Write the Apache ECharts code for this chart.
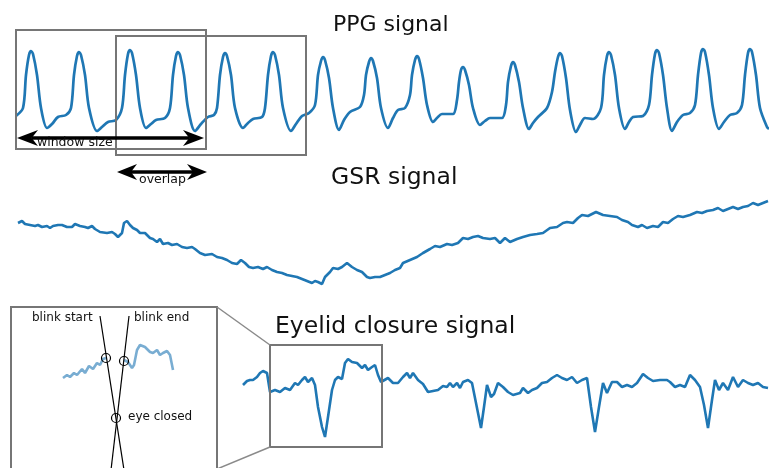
<!DOCTYPE html>
<html>
<head>
<meta charset="utf-8">
<script src="https://cdn.jsdelivr.net/npm/echarts@6/dist/echarts.min.js"></script>
<style>html,body{margin:0;padding:0;background:#fff;}#c{width:769px;height:468px;}</style>
</head>
<body>
<div id="c"></div>
<script>
// ---- data (time in samples, amplitude in arbitrary units) ----
var titles = ['PPG signal', 'GSR signal', 'Eyelid closure signal'];
var annotationLabels = ['window size', 'overlap', 'blink start', 'blink end', 'eye closed'];

var ppgSignal = [
  [16,24],[23,32],[26,65],[29,85],[31,89],[33,86],[37,65],[41,32],[47,12],[52,16],[58,23],[66,25],
  [71,32],[74,65],[77,84],[79,88],[81,85],[85,65],[89,32],[97,9],[102,13],[108,18],[116,20],
  [122,32],[125,65],[128,86],[130,90],[132,87],[136,65],[140,32],[146,12],[151,16],[156,20],[165,22],
  [170,32],[173,65],[176,84],[178,88],[180,85],[184,65],[188,32],[195,9],[201,16],[208,23],[214,25],
  [217,32],[220,65],[223,83],[225,87],[227,84],[231,65],[235,32],[243,12],[248,17],[253,21],[262,23],
  [265,32],[268,65],[271,84],[273,88],[275,85],[279,65],[283,32],[291,9],[296,16],[302,24],[309,27],
  [315,35],[318,65],[321,79],[323,83],[325,80],[329,62],[333,32],[339,10],[344,20],[350,28],[360,33],
  [364,45],[366,65],[369,78],[371,82],[373,79],[377,62],[381,32],[388,12],[393,22],[398,30],[405,32],
  [410,45],[412,65],[415,80],[417,84],[419,81],[423,62],[427,35],[433,18],[437,22],[442,26],[453,26],
  [457,40],[459,58],[461,70],[463,73],[465,70],[469,55],[473,32],[480,15],[485,19],[490,22],[502,22],
  [506,35],[508,58],[511,74],[513,78],[515,75],[519,58],[523,32],[529,11],[533,17],[538,23],[547,32],
  [552,48],[555,68],[558,83],[560,87],[562,84],[566,62],[570,30],[576,8],[580,15],[585,22],[593,21],
  [601,32],[604,65],[607,84],[609,88],[611,85],[615,65],[619,32],[625,11],[629,18],[633,23],[643,24],
  [649,35],[652,65],[655,86],[657,90],[659,87],[663,65],[667,32],[672,9],[677,18],[683,25],[690,27],
  [695,35],[698,65],[701,87],[703,91],[705,88],[709,65],[713,32],[719,11],[724,18],[730,25],[737,27],
  [742,35],[745,65],[748,87],[750,91],[752,88],[756,65],[760,32],[767,13],[769,11]
];

var gsrSignal = [
  [18,67],[22,69],[25,66],[30,65],[35,64],[38,65],[42,63],[47,64],[50,62],[53,64],[58,65],[62,65],
  [67,63],[72,63],[75,66],[80,64],[85,63],[88,62],[92,64],[95,61],[100,58],[107,57],[112,58],[115,56],
  [118,53],[122,57],[124,67],[127,69],[130,65],[133,62],[137,60],[140,57],[145,57],[150,52],[153,51],
  [157,48],[160,51],[163,46],[168,47],[172,45],[177,46],[182,43],[187,42],[192,43],[195,41],[200,37],
  [205,35],[212,36],[217,33],[222,32],[227,30],[232,27],[237,26],[241,30],[245,27],[249,23],[253,22],
  [258,23],[263,21],[267,23],[272,20],[277,18],[282,17],[287,15],[292,14],[297,13],[302,11],[307,9],
  [312,7],[315,9],[318,8],[322,6],[325,13],[330,18],[333,22],[338,21],[342,23],[347,27],[352,23],
  [357,20],[362,18],[367,13],[370,12],[375,13],[380,13],[385,15],[390,17],[395,20],[400,22],[403,27],
  [410,30],[417,33],[423,37],[430,41],[435,44],[440,43],[447,46],[452,45],[458,47],[463,52],[468,51],
  [473,53],[478,54],[483,52],[490,51],[495,52],[500,47],[505,52],[510,48],[517,51],[523,53],[530,55],
  [537,56],[543,57],[550,62],[557,63],[563,67],[567,68],[573,67],[578,72],[582,75],[588,74],[596,78],
  [603,75],[610,74],[617,73],[622,70],[628,68],[632,65],[638,63],[642,65],[647,62],[653,64],[658,63],
  [663,68],[668,67],[673,71],[678,74],[683,73],[690,75],[697,78],[702,77],[707,79],[713,80],[718,82],
  [723,79],[728,81],[733,83],[738,81],[743,83],[748,84],[753,87],[758,85],[763,87],[768,89]
];

var eyelidSignal = [
  [243,65],[247,69],[250,70],[253,70],[257,73],[260,77],[263,79],[267,77],[270,58],[272,58],[275,60],
  [280,58],[285,62],[290,60],[295,67],[298,65],[302,70],[305,73],[308,68],[312,72],[315,65],[318,43],
  [322,23],[325,13],[328,33],[332,60],[335,70],[338,73],[342,71],[345,87],[348,91],[352,88],[357,87],
  [362,82],[365,85],[368,80],[372,83],[375,85],[378,75],[381,68],[383,67],[388,72],[393,67],[398,67],
  [403,73],[407,77],[410,72],[413,77],[418,70],[423,66],[428,58],[433,59],[438,60],[443,64],[447,63],
  [450,67],[453,63],[457,67],[460,62],[463,68],[468,70],[472,67],[477,42],[481,22],[484,43],[487,65],
  [491,53],[494,56],[498,67],[503,63],[508,58],[513,55],[520,57],[523,62],[528,57],[532,60],[537,62],
  [542,67],[547,68],[552,72],[557,75],[562,72],[567,70],[572,73],[577,67],[582,70],[587,72],[591,43],
  [595,18],[599,43],[603,67],[607,57],[612,68],[617,68],[622,63],[627,65],[632,63],[637,67],[643,76],
  [648,72],[653,69],[660,70],[667,70],[670,68],[675,63],[680,65],[685,63],[690,75],[695,70],[700,63],
  [704,45],[708,22],[712,50],[715,70],[719,60],[723,67],[728,60],[733,73],[738,63],[743,70],[748,67],
  [753,65],[758,67],[763,63],[768,62]
];

var insetBefore = [[63,12],[67,15],[70,13],[74,17],[77,15],[82,21],[85,17],[89,24],[93,21],[97,27],[100,25],[103,31],[106,32]];
var insetAfter = [[124,30],[128,28],[132,22],[134,25],[137,40],[140,45],[145,43],[150,38],[153,37],[157,40],[160,35],[163,37],[167,39],[170,35],[173,20]];

// ---- chart ----
var chart = echarts.init(document.getElementById('c'), null, {renderer: 'canvas'});
var BLUE = '#1f77b4';
var FONT = '"DejaVu Sans", sans-serif';
var BOX = '#767676';

function arrow(x1, x2, y, hl, hw, lw) {
  return [
    {type: 'line', shape: {x1: x1 + hl * 0.7, y1: y, x2: x2 - hl * 0.7, y2: y}, style: {stroke: '#000', lineWidth: lw}, z: 110},
    {type: 'polygon', shape: {points: [[x1, y], [x1 + hl, y - hw], [x1 + hl * 0.7, y], [x1 + hl, y + hw]]}, style: {fill: '#000'}, z: 110},
    {type: 'polygon', shape: {points: [[x2, y], [x2 - hl, y - hw], [x2 - hl * 0.7, y], [x2 - hl, y + hw]]}, style: {fill: '#000'}, z: 110}
  ];
}
function txt(s, x, y, size) {
  return {type: 'text', x: x, y: y, z: 120, style: {text: s, fill: '#111', font: size + 'px ' + FONT, textAlign: 'left', textVerticalAlign: 'middle'}};
}
function rect(x, y, w, h, lw) {
  return {type: 'rect', shape: {x: x, y: y, width: w, height: h}, style: {fill: 'none', stroke: BOX, lineWidth: lw}, z: 100};
}
function seg(x1, y1, x2, y2, c, lw) {
  return {type: 'line', shape: {x1: x1, y1: y1, x2: x2, y2: y2}, style: {stroke: c, lineWidth: lw}, z: 105};
}
function circ(cx, cy) {
  return {type: 'circle', shape: {cx: cx, cy: cy, r: 4.5}, style: {fill: 'none', stroke: '#000', lineWidth: 1.2}, z: 115};
}

var graphics = [].concat(
  [txt(titles[0], 333, 25, 22), txt(titles[1], 331, 178, 23.5), txt(titles[2], 275, 327, 23.5)],
  [rect(16, 30, 190, 119, 2), rect(116, 36, 190, 119, 2)],
  arrow(17, 204, 138, 21, 8, 3.5),
  arrow(117, 207, 172, 20, 8, 3.5),
  [txt(annotationLabels[0], 37, 143, 12.5), txt(annotationLabels[1], 139, 180, 12.5)],
  [rect(11, 307, 206, 163, 2), rect(270, 345, 112, 102, 2),
   seg(217, 307, 270, 345, '#8a8a8a', 1.5), seg(217, 469, 270, 447, '#8a8a8a', 1.5),
   seg(100, 316, 124, 470, '#000', 1.2), seg(129, 316, 111, 470, '#000', 1.2),
   circ(106, 358), circ(124, 361), circ(116, 418)],
  [txt(annotationLabels[2], 32, 318, 12), txt(annotationLabels[3], 134, 318, 12), txt(annotationLabels[4], 128, 417, 12)]
);

function xa(i) { return {type: 'value', gridIndex: i, min: 0, max: 769, show: false}; }
function ya(i, max) { return {type: 'value', gridIndex: i, min: 0, max: max, show: false}; }
function line(i, data, color, w, smooth) {
  return {type: 'line', xAxisIndex: i, yAxisIndex: i, data: data, showSymbol: false, symbol: 'none',
    smooth: smooth, lineStyle: {color: color, width: w}, animation: false, silent: true, z: 5};
}

chart.setOption({
  backgroundColor: '#fff',
  animation: false,
  grid: [
    {left: 0, width: 769, top: 40, height: 100},
    {left: 0, width: 769, top: 190, height: 100},
    {left: 0, width: 769, top: 340, height: 110},
    {left: 0, width: 769, top: 330, height: 60}
  ],
  xAxis: [xa(0), xa(1), xa(2), xa(3)],
  yAxis: [ya(0, 100), ya(1, 100), ya(2, 110), ya(3, 60)],
  series: [
    line(0, ppgSignal, BLUE, 2.7, 0.3),
    line(1, gsrSignal, BLUE, 2.6, false),
    line(2, eyelidSignal, BLUE, 2.6, false),
    line(3, insetBefore, 'rgba(31,119,180,0.6)', 2.6, false),
    line(3, insetAfter, 'rgba(31,119,180,0.6)', 2.6, false)
  ],
  graphic: {elements: graphics}
});
</script>
</body>
</html>
